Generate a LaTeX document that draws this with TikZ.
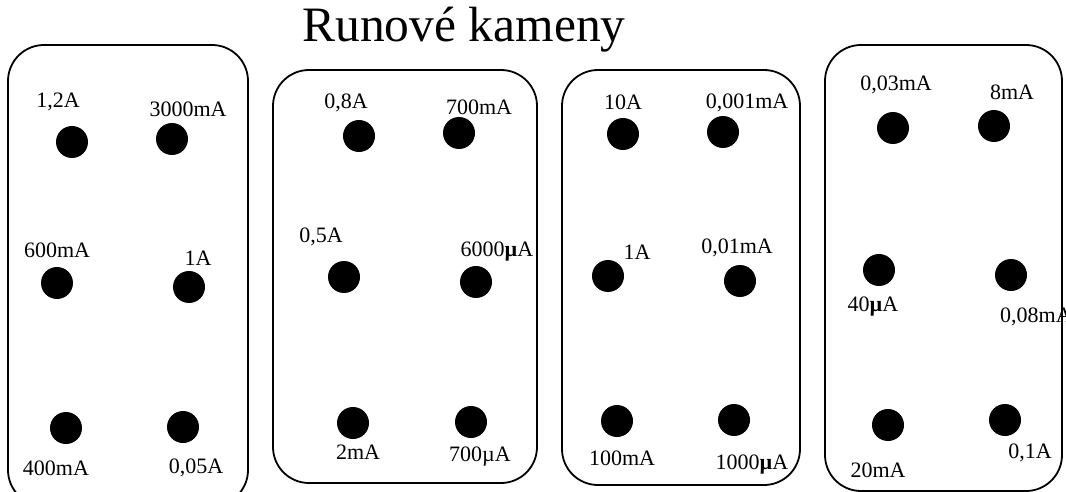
\documentclass[tikz,border=0pt]{standalone}
\usepackage{fontspec}
\setmainfont{Liberation Serif}
\begin{document}
\begin{tikzpicture}[x=1pt,y=-1pt,
  stone/.style={draw=black,line width=1.8pt,rounded corners=36pt},
  dot/.style={circle,fill=black,minimum size=32pt,inner sep=0pt},
  lbl/.style={font=\fontsize{22}{22}\selectfont,inner sep=0pt},
  ttl/.style={font=\fontsize{49.5}{49.5}\selectfont,inner sep=0pt}]
\useasboundingbox (0,0) rectangle (1066,492);
\clip (0,0) rectangle (1066,492);
\fill[white] (0,0) rectangle (1066,492);
\node[ttl] (title) at (464,30) {Runové kameny};

% four stone tablets
\draw[stone] (8,45) rectangle (248,506);
\draw[stone] (273,70) rectangle (537,483);
\draw[stone] (562,70) rectangle (800,485);
\draw[stone] (825,45) rectangle (1062,491);

% tablet 1
\node[dot] (a1) at (72,142) {};  \node[lbl] (la1) at (58,102) {1,2A};
\node[dot] (a2) at (172,139) {}; \node[lbl] (la2) at (188,109) {3000mA};
\node[dot] (a3) at (57,283) {};  \node[lbl] (la3) at (57,250) {600mA};
\node[dot] (a4) at (189,287) {}; \node[lbl] (la4) at (198,258) {1A};
\node[dot] (a5) at (66,428) {};  \node[lbl] (la5) at (56,468) {400mA};
\node[dot] (a6) at (183,427) {}; \node[lbl] (la6) at (196,468) {0,05A};

% tablet 2
\node[dot] (b1) at (359,136) {}; \node[lbl] (lb1) at (346,103) {0,8A};
\node[dot] (b2) at (459,133) {}; \node[lbl] (lb2) at (479,107) {700mA};
\node[dot] (b3) at (344,277) {}; \node[lbl] (lb3) at (321,237) {0,5A};
\node[dot] (b4) at (476,282) {}; \node[lbl] (lb4) at (497,252) {6000\textbf{µ}A};
\node[dot] (b5) at (353,423) {}; \node[lbl] (lb5) at (358,452) {2mA};
\node[dot] (b6) at (471,422) {}; \node[lbl] (lb6) at (480,457) {700µA};

% tablet 3
\node[dot] (c1) at (623,134) {}; \node[lbl] (lc1) at (623,102) {10A};
\node[dot] (c2) at (723,132) {}; \node[lbl] (lc2) at (747,103) {0,001mA};
\node[dot] (c3) at (608,276) {}; \node[lbl] (lc3) at (637,252) {1A};
\node[dot] (c4) at (740,281) {}; \node[lbl] (lc4) at (737,248) {0,01mA};
\node[dot] (c5) at (617,421) {}; \node[lbl] (lc5) at (622,458) {100mA};
\node[dot] (c6) at (734,420) {}; \node[lbl] (lc6) at (752,465) {1000\textbf{µ}A};

% tablet 4
\node[dot] (d1) at (893,128) {};  \node[lbl] (ld1) at (896,85) {0,03mA};
\node[dot] (d2) at (994,126) {};  \node[lbl] (ld2) at (1012,92) {8mA};
\node[dot] (d3) at (879,270) {};  \node[lbl] (ld3) at (873,307) {40\textbf{µ}A};
\node[dot] (d4) at (1011,275) {}; \node[lbl,anchor=west] (ld4) at (1000,317) {0,08mA};
\node[dot] (d5) at (888,425) {};  \node[lbl] (ld5) at (878,470) {20mA};
\node[dot] (d6) at (1005,420) {}; \node[lbl] (ld6) at (1030,453) {0,1A};
\end{tikzpicture}
\end{document}
